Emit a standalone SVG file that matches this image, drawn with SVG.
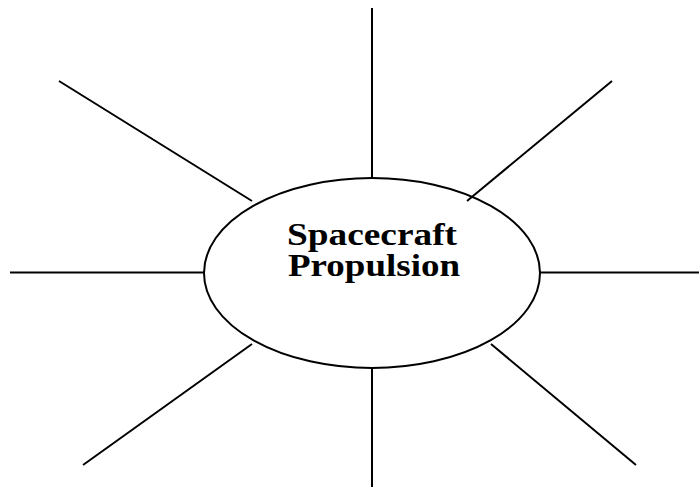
<svg xmlns="http://www.w3.org/2000/svg" width="699" height="489" viewBox="0 0 699 489">
<style>
.ln{stroke:#000;stroke-width:2;fill:none}
.lbl{font-family:"Liberation Serif","Times New Roman",serif;font-weight:bold;font-size:32px;fill:#000}
</style>
<rect width="699" height="489" fill="#fff"/>
<g id="connectors">
<line class="ln" x1="372" y1="8" x2="372" y2="178"/>
<line class="ln" x1="372" y1="368" x2="372" y2="487"/>
<line class="ln" x1="10" y1="272.5" x2="204" y2="272.5"/>
<line class="ln" x1="540" y1="272.5" x2="699" y2="272.5"/>
<line class="ln" x1="59" y1="81" x2="252" y2="201"/>
<line class="ln" x1="612" y1="81" x2="467" y2="201"/>
<line class="ln" x1="83" y1="465" x2="252" y2="344"/>
<line class="ln" x1="491" y1="344" x2="636" y2="465"/>
</g>
<g id="center">
<ellipse class="ln" cx="372" cy="273" rx="168" ry="95"/>
<text class="lbl" text-anchor="middle"><tspan x="372" y="245" textLength="170" lengthAdjust="spacingAndGlyphs">Spacecraft</tspan><tspan x="374" y="276" textLength="172" lengthAdjust="spacingAndGlyphs">Propulsion</tspan></text>
</g>
</svg>
